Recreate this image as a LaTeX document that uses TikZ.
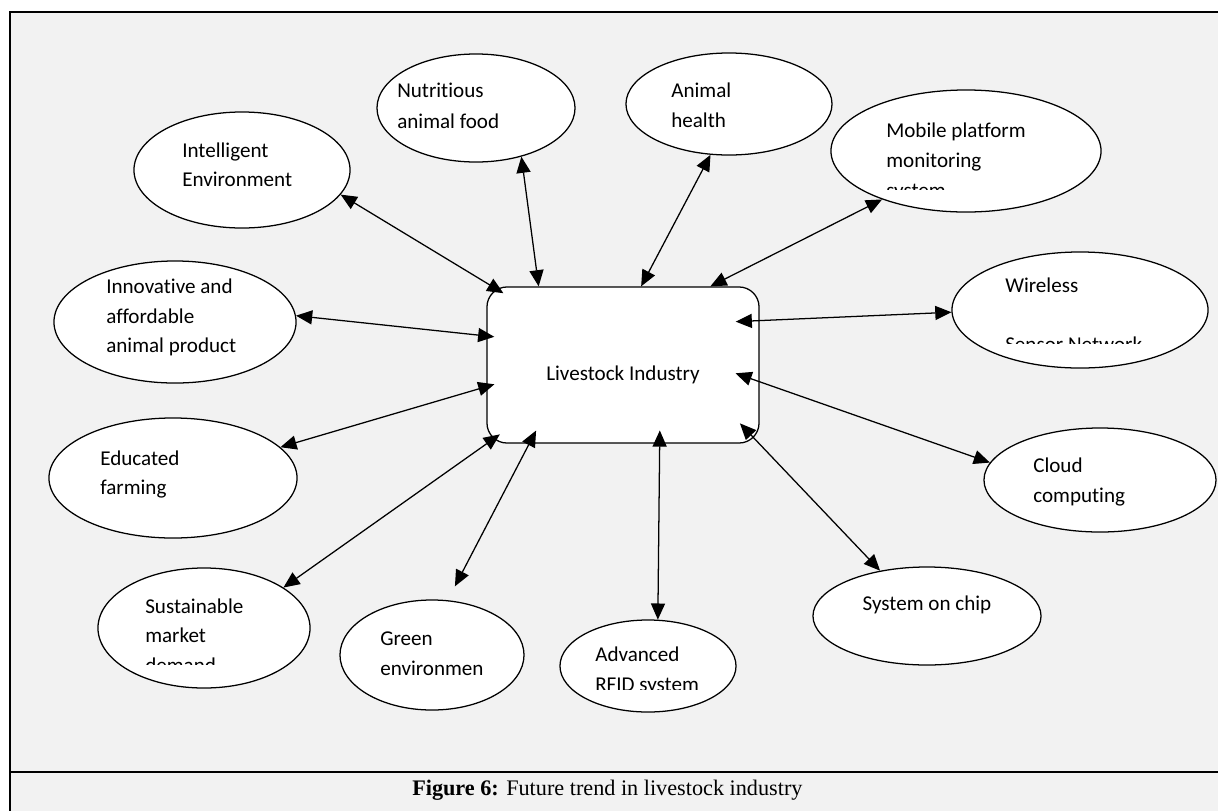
\documentclass[tikz,border=0pt]{standalone}
\usepackage{fontspec}
\setmainfont{Carlito}[Ligatures=NoCommon]
\newfontfamily\capfont{Liberation Serif}
\usetikzlibrary{arrows.meta,shapes.geometric}
\definecolor{panel}{HTML}{F2F2F2}

\begin{document}
\begin{tikzpicture}[x=0.025cm, y=-0.025cm,
  bubble/.style={draw, ellipse, fill=white, line width=0.9pt, inner sep=0pt},
  txt/.style={anchor=base west, inner sep=0pt, font=\fontsize{15}{18}\selectfont},
  link/.style={{Triangle[length=11.5pt,width=10pt]}-{Triangle[length=11.5pt,width=10pt]}, line width=0.9pt}]
% Page and frame
\clip (0,0) rectangle (1218,810);
\fill[panel] (10,12) rectangle (1230,830);
\draw[line width=1.4pt] (10,830) -- (10,12) -- (1230,12);
\draw[line width=1.4pt] (10,772) -- (1230,772);

% Centre box
\node[draw, fill=white, rounded corners=0.5cm, line width=0.9pt, minimum width=6.8cm, minimum height=3.9cm] (hub) at (623,365) {};
\node[anchor=base, inner sep=0pt, font=\fontsize{15}{18}\selectfont] (hubA) at (623,380) {Livestock Industry};

% Draw the ellipses
\node[bubble, minimum width=5.4cm, minimum height=2.9cm] (intel) at (242,170) {};
\node[bubble, minimum width=4.95cm, minimum height=2.7cm] (food) at (476,108) {};
\node[bubble, minimum width=5.15cm, minimum height=2.55cm] (health) at (729,104) {};
\node[bubble, minimum width=6.75cm, minimum height=3.05cm] (mobile) at (966,151) {};
\node[bubble, minimum width=6.4cm, minimum height=2.9cm] (wireless) at (1080,310) {};
\node[bubble, minimum width=5.8cm, minimum height=2.6cm] (cloud) at (1100,480) {};
\node[bubble, minimum width=5.7cm, minimum height=2.45cm] (chip) at (927,616) {};
\node[bubble, minimum width=4.4cm, minimum height=2.3cm] (rfid) at (648,666) {};
\node[bubble, minimum width=4.6cm, minimum height=2.75cm] (green) at (432,655) {};
\node[bubble, minimum width=5.3cm, minimum height=3.0cm] (market) at (204,628) {};
\node[bubble, minimum width=6.2cm, minimum height=3.0cm] (edu) at (173,478) {};
\node[bubble, minimum width=6.05cm, minimum height=3.05cm] (product) at (175,322) {};

% Insert the texts
\node[txt] (intelA) at (182,157) {Intelligent};
\node[txt] (intelB) at (182,186) {Environment};
\node[txt] (foodA) at (397,97) {Nutritious};
\node[txt] (foodB) at (397,128) {animal food};
\node[txt] (healthA) at (671,97) {Animal};
\node[txt] (healthB) at (671,127) {health};
\node[txt] (mobileA) at (886,137) {Mobile platform};
\node[txt] (mobileB) at (886,167) {monitoring};
\begin{scope}
\clip (870,175) rectangle (1010,189);
\node[txt] (mobileC) at (886,197) {system};
\end{scope}
\node[txt] (wirelessA) at (1005,292) {Wireless};
\begin{scope}
\clip (990,320) rectangle (1160,343);
\node[txt] (wirelessB) at (1005,351) {Sensor Network};
\end{scope}
\node[txt] (cloudA) at (1033,472) {Cloud};
\node[txt] (cloudB) at (1033,502) {computing};
\node[anchor=base, inner sep=0pt, font=\fontsize{15}{18}\selectfont] (chipA) at (927,610) {System on chip};
\node[txt] (rfidA) at (595,661) {Advanced};
\begin{scope}
\clip (580,670) rectangle (720,689);
\node[txt] (rfidB) at (595,691) {RFID system};
\end{scope}
\node[txt] (greenA) at (380,645) {Green};
\node[txt] (greenB) at (380,675) {environmen};
\node[txt] (marketA) at (145,613) {Sustainable};
\node[txt] (marketB) at (145,642) {market};
\begin{scope}
\clip (130,650) rectangle (260,664);
\node[txt] (marketC) at (145,672) {demand};
\end{scope}
\node[txt] (eduA) at (100,465) {Educated};
\node[txt] (eduB) at (100,494) {farming};
\node[txt] (productA) at (106,293) {Innovative and};
\node[txt] (productB) at (106,323) {affordable};
\node[txt] (productC) at (106,352) {animal product};

% Draw the arrows
\draw[link, shorten <=-0.33cm] (hub.149) -- (intel.-14);
\draw[link] (hub.137) -- (food.-47);
\draw[link] (hub.77) -- (health.-110);
\draw[link] (hub.42) -- (mobile.-150);
\draw[link, shorten <=-0.6cm] (hub.18) -- (wireless.181);
\draw[link, shorten <=-0.64cm] (hub.-7) -- (cloud.171);
\draw[link, shorten <=-0.7cm] (hub.-30) -- (chip.136);
\draw[link, shorten <=-0.33cm] (hub.-65) -- (rfid.78);
\draw[link, shorten <=-0.37cm, shorten >=0.39cm] (hub.-140) -- (green.74);
\draw[link, shorten <=-0.4cm] (hub.-150) -- (market.27);
\draw[link, shorten <=-0.21cm] (hub.189) -- (edu.16);
\draw[link, shorten <=-0.2cm] (hub.168) -- (product.3);

% Caption
\node[anchor=base west, inner sep=0pt, font=\capfont\fontsize{15.8}{19}\selectfont] (caption) at (412,795) {\textbf{Figure 6:} Future trend in livestock industry};
\end{tikzpicture}
\end{document}
